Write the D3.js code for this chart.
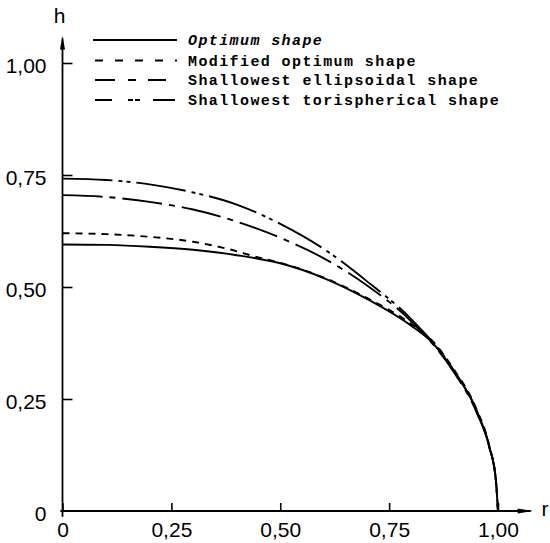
<!DOCTYPE html>
<meta charset="utf-8">
<script src="https://d3js.org/d3.v7.min.js"></script>
<style>
  body { margin: 0; background: #fff; }
</style>
<div id="chart"></div>
<script>

// curve data (r, h)
var optR = [0, 0.1, 0.2, 0.3, 0.4, 0.5, 0.6, 0.7, 0.8, 0.85, 0.9, 0.95, 0.98, 0.995, 1.0];
var optH = [0.595, 0.594, 0.590, 0.583, 0.571, 0.553, 0.520, 0.473, 0.414, 0.375, 0.31, 0.226, 0.143, 0.07, 0.0];

var modR = [0, 0.1, 0.2, 0.3, 0.38, 0.45, 0.5, 0.6, 0.7, 0.8, 0.85, 0.9, 0.95, 0.98, 0.995, 1.0];
var modH = [0.620, 0.618, 0.612, 0.601, 0.585, 0.566, 0.554, 0.521, 0.475, 0.418, 0.379, 0.314, 0.229, 0.145, 0.07, 0.0];

var ellR = [0, 0.1, 0.2, 0.3, 0.4, 0.5, 0.6, 0.7, 0.8, 0.9, 0.95, 0.98, 0.995, 1.0];
var ellH = [0.705, 0.701, 0.690, 0.673, 0.646, 0.610, 0.564, 0.503, 0.424, 0.308, 0.222, 0.142, 0.07, 0.0];

var torR = [0, 0.1, 0.2, 0.3, 0.4, 0.5, 0.6, 0.7, 0.8, 0.9, 0.95, 0.98, 0.995, 1.0];
var torH = [0.742, 0.739, 0.729, 0.711, 0.684, 0.641, 0.585, 0.512, 0.429, 0.312, 0.226, 0.144, 0.07, 0.0];

var tickVals = [0, 0.25, 0.5, 0.75, 1.0];
var tickLabels = ["0", "0,25", "0,50", "0,75", "1,00"];

var legendNames = ["Optimum shape", "Modified optimum shape", "Shallowest ellipsoidal shape", "Shallowest torispherical shape"];

var width = 550, height = 543;

var svg = d3.select("#chart")
  .append("svg")
    .attr("width", width)
    .attr("height", height);

// scales
var x = d3.scaleLinear().domain([0, 1]).range([62.5, 498]);
var y = d3.scaleLinear().domain([0, 1]).range([511, 63]);

var fmt = function(d) { return tickLabels[tickVals.indexOf(d)]; };

// x axis, ticks pointing up
var xAxis = svg.append("g")
  .attr("transform", "translate(0," + y(0) + ")")
  .call(d3.axisBottom(x).tickValues(tickVals).tickFormat(fmt).tickSize(-8).tickPadding(11));
xAxis.select(".domain").remove();
xAxis.selectAll("line").attr("stroke", "#000").attr("stroke-width", 1.6);
xAxis.selectAll("text")
  .style("font-family", "'Liberation Sans', Arial, sans-serif")
  .style("font-size", "21px")
  .attr("fill", "#000");

// y axis, ticks pointing right
var yAxis = svg.append("g")
  .attr("transform", "translate(" + x(0) + ",0)")
  .call(d3.axisLeft(y).tickValues(tickVals.slice()).tickFormat(fmt).tickSize(-10).tickPadding(16));
yAxis.select(".domain").remove();
yAxis.selectAll("line").attr("stroke", "#000").attr("stroke-width", 1.6);
yAxis.selectAll("text")
  .attr("dy", "0.45em")
  .style("font-family", "'Liberation Sans', Arial, sans-serif")
  .style("font-size", "21px")
  .attr("fill", "#000");
yAxis.selectAll(".tick").filter(function(d) { return d === 0; }).select("line").remove();

// axis lines with arrows
svg.append("line")
  .attr("x1", x(-0.005)).attr("x2", x(1.075))
  .attr("y1", y(0)).attr("y2", y(0))
  .attr("stroke", "#000").attr("stroke-width", 1.8);
svg.append("path")
  .attr("d", "M" + x(1.045) + "," + (y(0) - 2.5) + "L" + x(1.08) + "," + y(0) + "L" + x(1.045) + "," + (y(0) + 2.5) + "Z")
  .attr("fill", "#000");

svg.append("line")
  .attr("x1", x(0)).attr("x2", x(0))
  .attr("y1", y(-0.013)).attr("y2", y(1.055))
  .attr("stroke", "#000").attr("stroke-width", 1.8);
svg.append("path")
  .attr("d", "M" + (x(0) - 2.5) + "," + y(1.03) + "L" + x(0) + "," + y(1.06) + "L" + (x(0) + 2.5) + "," + y(1.03) + "Z")
  .attr("fill", "#000");

// axis names
svg.append("text")
  .attr("x", x(1.1)).attr("y", y(0) + 5)
  .style("font-family", "'Liberation Sans', Arial, sans-serif")
  .style("font-size", "21px")
  .text("r");
svg.append("text")
  .attr("x", x(0) - 3).attr("y", 23)
  .attr("text-anchor", "middle")
  .style("font-family", "'Liberation Sans', Arial, sans-serif")
  .style("font-size", "21px")
  .text("h");

// curves
var line = d3.line()
  .x(function(d) { return x(d[0]); })
  .y(function(d) { return y(d[1]); })
  .curve(d3.curveMonotoneX);

var series = [
  { r: optR, h: optH, dash: null },
  { r: modR, h: modH, dash: "7,6" },
  { r: ellR, h: ellH, dash: "40,7,6,7" },
  { r: torR, h: torH, dash: "50,6,4,4,4,6" }
];

series.forEach(function(s) {
  var pts = s.r.map(function(r, i) { return [r, s.h[i]]; });
  svg.append("path")
    .datum(pts)
    .attr("fill", "none")
    .attr("stroke", "#000")
    .attr("stroke-width", 1.9)
    .attr("stroke-dasharray", s.dash)
    .attr("d", line);
});

// legend
var legendY = [40, 60.5, 80, 100];
var legendDash = [null, "8,12", "20,13,8,12,20", "17,16,5,2,5,13,22"];
var legendX1 = [93, 95, 95, 95], legendX2 = [177, 177, 166, 177];

legendNames.forEach(function(name, i) {
  svg.append("line")
    .attr("x1", legendX1[i]).attr("x2", legendX2[i])
    .attr("y1", legendY[i]).attr("y2", legendY[i])
    .attr("stroke", "#000")
    .attr("stroke-width", 1.8)
    .attr("stroke-dasharray", legendDash[i]);
  svg.append("text")
    .attr("x", 188)
    .attr("y", legendY[i] + 5)
    .style("font-family", "'Liberation Mono', 'DejaVu Sans Mono', monospace")
    .style("font-size", "15px")
    .style("font-weight", "bold")
    .style("font-style", i === 0 ? "italic" : "normal")
    .style("letter-spacing", "1.4px")
    .text(name);
});

</script>
